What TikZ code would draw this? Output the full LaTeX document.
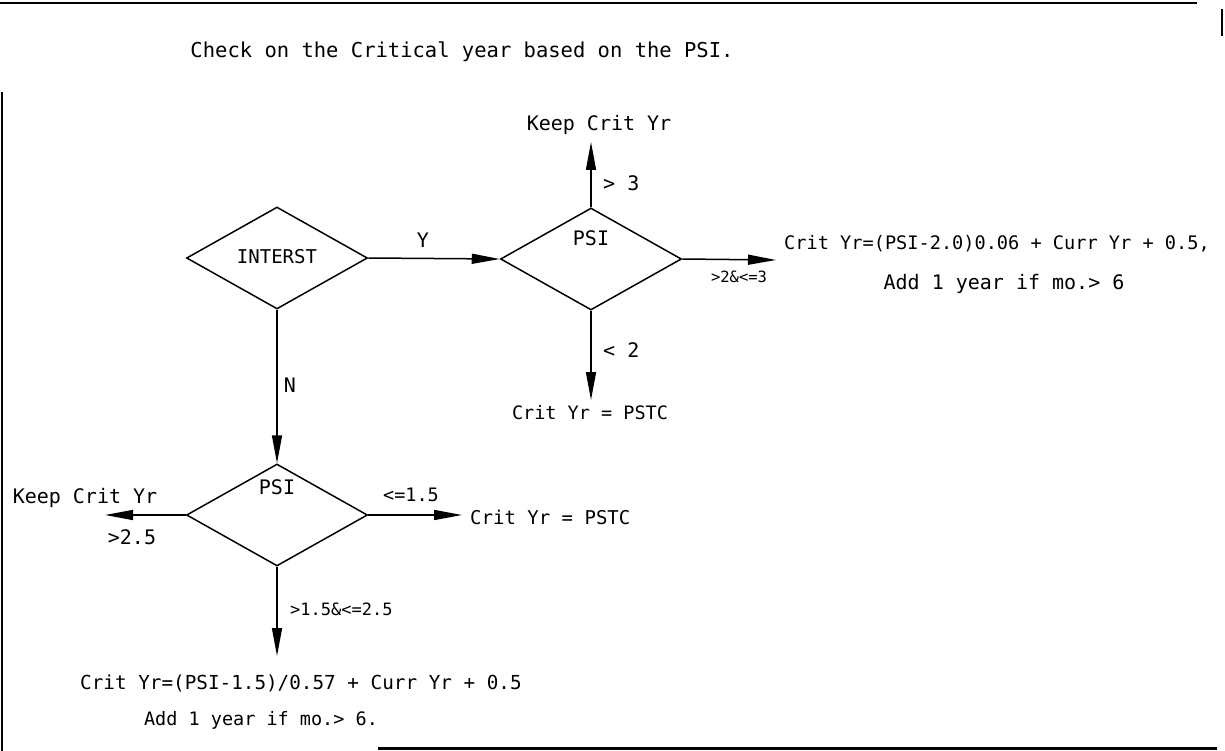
\documentclass[tikz,border=0pt]{standalone}
\usepackage{fontspec}
\newfontfamily\cadfont{DejaVu Sans Mono}
\usetikzlibrary{shapes.geometric,arrows.meta}
\begin{document}
\begin{tikzpicture}[x=1pt,y=-1pt,
  lbl/.style={inner sep=0pt, font=\cadfont\fontsize{#1}{#1}\selectfont},
  lbl/.default=20,
  dia/.style={draw, diamond, minimum width=181pt, minimum height=102pt, inner sep=0pt, line width=1.5pt},
  arr/.style={line width=1.5pt, -{Triangle[length=28pt,width=10pt]}},
  frameline/.style={line width=2pt}]
\useasboundingbox (0,0) rectangle (1225,751);
% frame
\draw[frameline] (0,3) -- (1197,3);
\draw[line width=1.2pt] (1222,9) -- (1222,36);
\draw[frameline] (1.5,92) -- (1.5,751);
\draw[line width=3pt] (378,748) -- (1217,748);
% title
\node[lbl=20.5] (title) at (462,52) {Check on the Critical year based on the PSI.};
% diamonds
\node[dia] (int) at (277,258) {};
\node[lbl=19] (intl) at (277,257) {INTERST};
\node[dia] (psa) at (591,259) {};
\node[lbl] (psal) at (591,238) {PSI};
\node[dia] (psb) at (277,515) {};
\node[lbl] (psbl) at (277,487) {PSI};
% targets
\coordinate (upend) at (591,142);
\coordinate (rend) at (776,260);
\coordinate (dend) at (591,400);
\coordinate (lbend) at (105,515);
\coordinate (rbend) at (462,515);
\coordinate (dbend) at (277,656);
% connectors
\draw[arr] (int.east) -- (psa.west);
\draw[arr] (psa.north) -- (upend);
\draw[arr] (psa.east) -- (rend);
\draw[arr] (psa.south) -- (dend);
\draw[arr] (int.south) -- (psb.north);
\draw[arr] (psb.west) -- (lbend);
\draw[arr] (psb.east) -- (rbend);
\draw[arr] (psb.south) -- (dbend);
% labels
\node[lbl] (ylab) at (423,240) {Y};
\node[lbl] (nlab) at (290,385) {N};
\node[lbl, anchor=west] (g3) at (603,183) {> 3};
\node[lbl] (kc1) at (599,125) {Keep Crit Yr};
\node[lbl=15.5] (g2l) at (739,277) {>2\&<=3};
\node[lbl=18.6] (cr1) at (997,244) {Crit Yr=(PSI-2.0)0.06 + Curr Yr + 0.5,};
\node[lbl=20] (ad1) at (1004,284) {Add 1 year if mo.> 6};
\node[lbl, anchor=west] (l2) at (603,350) {< 2};
\node[lbl=18.5] (ps1) at (590,413) {Crit Yr = PSTC};
\node[lbl] (kc2) at (85,498) {Keep Crit Yr};
\node[lbl] (g25) at (132,537) {>2.5};
\node[lbl=18.5] (le15) at (411,495) {<=1.5};
\node[lbl=19, anchor=west] (ps2) at (470,517) {Crit Yr = PSTC};
\node[lbl=17, anchor=west] (mid) at (290,609) {>1.5\&<=2.5};
\node[lbl=19.3] (cr2) at (301,683) {Crit Yr=(PSI-1.5)/0.57 + Curr Yr + 0.5};
\node[lbl=18.5] (ad2) at (261,720) {Add 1 year if mo.> 6.};
\end{tikzpicture}
\end{document}
